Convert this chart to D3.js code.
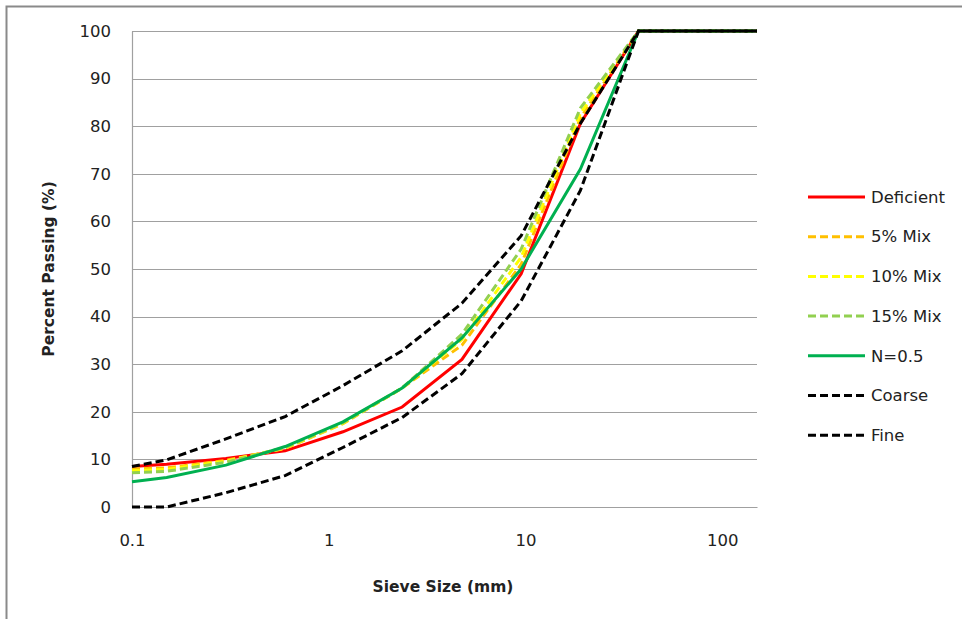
<!DOCTYPE html>
<html>
<head>
<meta charset="utf-8">
<script src="https://cdn.jsdelivr.net/npm/d3@7"></script>
<style>
  body { margin: 0; background: #fff; }
  svg { display: block; font-family: "DejaVu Sans", sans-serif; }
</style>
</head>
<body>
<div id="chart"></div>
<script>
// sieve sizes (mm) and percent passing for each gradation
var sieveSizes = [0.1, 0.15, 0.3, 0.6, 1.18, 2.36, 4.75, 9.5, 19, 37.5, 150];
var deficient = [8.5, 9, 10.2, 11.8, 15.8, 21, 31, 49, 80.6, 100, 100];
var mix5 = [8, 8.2, 9.8, 12.3, 17.5, 25, 34, 51, 81.7, 100, 100];
var mix10 = [7.6, 7.9, 9.6, 12.4, 17.6, 25, 35.2, 52.5, 82.7, 100, 100];
var mix15 = [7.2, 7.5, 9.4, 12.5, 17.7, 25, 36.3, 54.2, 83.8, 100, 100];
var n05 = [5.3, 6.2, 8.8, 12.7, 17.9, 25, 35.5, 50, 71, 100, 100];
var coarse = [8.5, 9.9, 14.3, 19, 25.5, 32.8, 42.8, 57, 80.6, 100, 100];
var fine = [0, 0, 3, 6.6, 12.5, 18.8, 28, 43.3, 66.5, 100, 100];

var seriesNames = ['Deficient', '5% Mix', '10% Mix', '15% Mix', 'N=0.5', 'Coarse', 'Fine'];
var seriesValues = [deficient, mix5, mix10, mix15, n05, coarse, fine];
var seriesColors = ['#ff0000', '#ffc000', '#ffff00', '#92d050', '#00b050', '#000000', '#000000'];
var seriesDashed = [false, true, true, true, false, true, true];

var xTicks = [0.1, 1, 10, 100];
var yTicks = [0, 10, 20, 30, 40, 50, 60, 70, 80, 90, 100];

var width = 962;
var height = 619;
var margin = ({top: 31, right: 205, bottom: 112, left: 132});

var svg = d3.select('#chart')
  .append('svg')
    .attr('width', width)
    .attr('height', height);

// outer chart border (only top and left show in the crop)
svg.append('rect')
  .attr('x', 6.5)
  .attr('y', 6.5)
  .attr('width', width + 20)
  .attr('height', height + 20)
  .attr('fill', 'none')
  .attr('stroke', '#8a8a8a')
  .attr('stroke-width', 2);

var x = d3.scaleLog()
  .domain([0.1, 150])
  .range([margin.left, width - margin.right]);

var y = d3.scaleLinear()
  .domain([0, 100])
  .range([height - margin.bottom, margin.top]);

// gridlines
svg.append('g')
  .selectAll('line')
  .data(yTicks)
  .join('line')
    .attr('x1', margin.left)
    .attr('x2', width - margin.right)
    .attr('y1', d => Math.round(y(d)) + 0.5)
    .attr('y2', d => Math.round(y(d)) + 0.5)
    .attr('stroke', '#a0a0a0')
    .attr('stroke-width', 1.2);

// y axis
var yAxis = svg.append('g')
  .attr('transform', `translate(${margin.left}, 0)`)
  .call(d3.axisLeft(y).tickValues(yTicks).tickSize(0).tickPadding(21));
yAxis.select('.domain').attr('stroke', '#a0a0a0').attr('stroke-width', 1.2);
yAxis.selectAll('text')
  .attr('font-family', '"DejaVu Sans", sans-serif')
  .attr('font-size', 16.5)
  .attr('fill', '#222');

// x axis
var xAxis = svg.append('g')
  .attr('transform', `translate(0, ${height - margin.bottom})`)
  .call(d3.axisBottom(x).tickValues(xTicks).tickFormat(d3.format('~g')).tickSize(0).tickPadding(27));
xAxis.select('.domain').attr('stroke', '#a0a0a0').attr('stroke-width', 1.2);
xAxis.selectAll('text')
  .attr('font-family', '"DejaVu Sans", sans-serif')
  .attr('font-size', 16.5)
  .attr('fill', '#222');

// axis titles
svg.append('text')
  .attr('x', 443)
  .attr('y', 592)
  .attr('text-anchor', 'middle')
  .attr('font-size', 15.5)
  .attr('font-weight', 'bold')
  .attr('fill', '#222')
  .text('Sieve Size (mm)');

svg.append('text')
  .attr('transform', 'translate(54, 269) rotate(-90)')
  .attr('text-anchor', 'middle')
  .attr('font-size', 15.5)
  .attr('font-weight', 'bold')
  .attr('fill', '#222')
  .text('Percent Passing (%)');

// series lines
var line = d3.line()
  .x((d, i) => x(sieveSizes[i]))
  .y(d => y(d));

svg.append('g')
  .selectAll('path')
  .data(seriesValues)
  .join('path')
    .attr('d', d => line(d))
    .attr('fill', 'none')
    .attr('stroke', (d, i) => seriesColors[i])
    .attr('stroke-width', 3)
    .attr('stroke-dasharray', (d, i) => seriesDashed[i] ? '8,4' : null);

// legend
var legend = svg.append('g')
  .selectAll('g')
  .data(seriesNames)
  .join('g')
    .attr('transform', (d, i) => `translate(808, ${197 + i * 39.7})`);

legend.append('line')
  .attr('x1', 0)
  .attr('x2', 57)
  .attr('stroke', (d, i) => seriesColors[i])
  .attr('stroke-width', 3)
  .attr('stroke-dasharray', (d, i) => seriesDashed[i] ? '8,4' : null);

legend.append('text')
  .attr('x', 63)
  .attr('dy', '0.35em')
  .attr('font-size', 16.5)
  .attr('fill', '#222')
  .text(d => d);
</script>
</body>
</html>
